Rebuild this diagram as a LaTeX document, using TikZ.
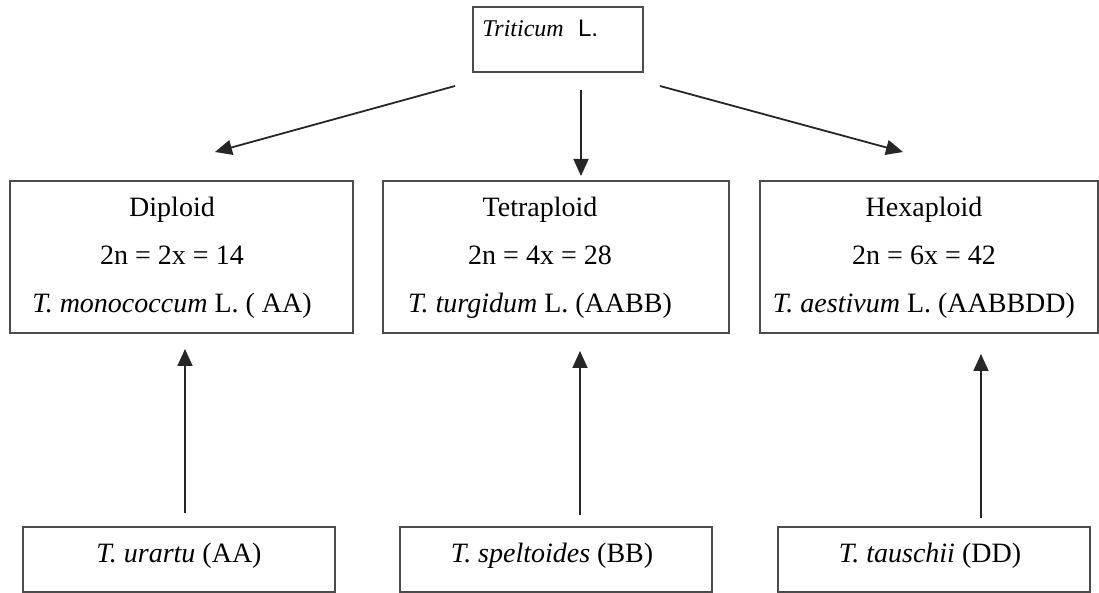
\documentclass[tikz,border=0pt]{standalone}
\usepackage{fontspec}
\setmainfont{Liberation Serif}
\newfontfamily\lsans{Liberation Sans}
\usetikzlibrary{arrows.meta}
\begin{document}
\begin{tikzpicture}[x=0.5pt,y=-0.5pt,
  boxstyle/.style={draw=black!70, line width=1pt, inner sep=0pt},
  txtstyle/.style={inner sep=0pt, align=center, font=\fontsize{14}{24}\selectfont},
  conn/.style={draw=black!85, line width=0.9pt, -{Triangle[length=8.5pt,width=7.5pt]}}]
\useasboundingbox (0,0) rectangle (1099,593);
% boxes
\node[boxstyle, minimum width=85pt, minimum height=32.5pt] (top) at (558,39.5) {};
\node[anchor=base west, inner sep=0pt, font=\fontsize{12}{14}\selectfont] (toptxt) at (482,37) {\textit{Triticum}\hspace{0.6em}{\lsans L.}};
\node[boxstyle, minimum width=171.5pt, minimum height=76pt] (dip) at (181.5,257) {};
\node[boxstyle, minimum width=173pt, minimum height=76pt] (tet) at (556,257) {};
\node[boxstyle, minimum width=169pt, minimum height=76pt] (hex) at (929,257) {};
\node[txtstyle] (diptxt) at (172,258) {Diploid\\2n = 2x = 14\\\textit{T. monococcum} L. ( AA)};
\node[txtstyle] (tettxt) at (540,258) {Tetraploid\\2n = 4x = 28\\\textit{T. turgidum} L. (AABB)};
\node[txtstyle] (hextxt) at (924,258) {Hexaploid\\2n = 6x = 42\\\textit{T. aestivum} L. (AABBDD)};
\node[boxstyle, minimum width=156pt, minimum height=32.5pt] (ura) at (179,559.5) {};
\node[boxstyle, minimum width=156pt, minimum height=32.5pt] (spe) at (556,559.5) {};
\node[boxstyle, minimum width=156pt, minimum height=32.5pt] (tau) at (934,559.5) {};
\node[txtstyle] (uratxt) at (179,556) {\textit{T. urartu} (AA)};
\node[txtstyle] (spetxt) at (552,556) {\textit{T. speltoides} (BB)};
\node[txtstyle] (tautxt) at (930,556) {\textit{T. tauschii} (DD)};
% connector end points
\coordinate (a1) at (455,86);  \coordinate (b1) at (215,152);
\coordinate (a2) at (581,90);  \coordinate (b2) at (581,176);
\coordinate (a3) at (660,86);  \coordinate (b3) at (903,152);
\coordinate (c1) at (185,513); \coordinate (d1) at (185,349);
\coordinate (c2) at (580,515); \coordinate (d2) at (580,351);
\coordinate (c3) at (981,518); \coordinate (d3) at (981,354);
\draw[conn] (a1) -- (b1);
\draw[conn] (a2) -- (b2);
\draw[conn] (a3) -- (b3);
\draw[conn] (c1) -- (d1);
\draw[conn] (c2) -- (d2);
\draw[conn] (c3) -- (d3);
\end{tikzpicture}
\end{document}
